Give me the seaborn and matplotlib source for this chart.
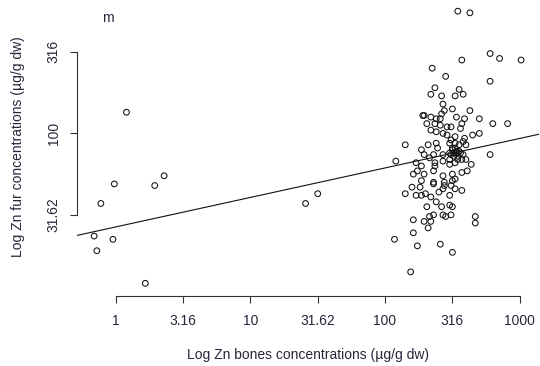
import numpy as np
import pandas as pd
import matplotlib
matplotlib.use("Agg")
import matplotlib.pyplot as plt
import seaborn as sns

# log10 Zn concentrations (ug/g dw)
bones_log = [
    -0.01, -0.11, 0.29, 0.36, -0.16, -0.02, -0.14, 0.22, 0.08, 1.41, 1.50,
    2.54, 2.63, 2.78, 2.85, 3.01, 2.57, 2.35, 2.45, 2.78, 2.37, 2.55,
    2.34, 2.42, 2.52, 2.58, 2.43, 2.50, 2.44, 2.63, 2.28, 2.29, 2.34, 2.38,
    2.41, 2.42, 2.53, 2.59, 2.57, 2.70, 2.80, 2.91, 2.31, 2.37, 2.41, 2.46,
    2.49, 2.56, 2.34, 2.38, 2.43, 2.46, 2.52, 2.59, 2.65, 2.70, 2.15, 2.27,
    2.32, 2.38, 2.39, 2.48, 2.50, 2.53, 2.58, 2.60, 2.29, 2.36, 2.43, 2.49,
    2.54, 2.58, 2.78, 2.08, 2.23, 2.27, 2.33, 2.37, 2.43, 2.48, 2.52, 2.57,
    2.60, 2.64, 2.21, 2.24, 2.29, 2.36, 2.37, 2.43, 2.48, 2.50, 2.57, 2.61,
    2.27, 2.36, 2.44, 2.50, 2.52,
    2.50, 2.52, 2.53, 2.51, 2.55, 2.52, 2.48, 2.56, 2.51, 2.54, 2.49, 2.55,
    2.15, 2.20, 2.23, 2.26, 2.27, 2.30, 2.34, 2.36, 2.38, 2.40, 2.43, 2.44,
    2.48, 2.49, 2.52, 2.57, 2.31, 2.42, 2.48, 2.50, 2.21, 2.29, 2.33, 2.34,
    2.36, 2.43, 2.45, 2.49, 2.32, 2.21, 2.67, 2.67, 2.07, 2.24, 2.41, 2.50,
    2.19,
]
fur_log = [
    1.69, 1.57, 1.68, 1.74, 1.37, 1.35, 1.28, 1.08, 2.13, 1.57, 1.63,
    2.75, 2.74, 2.49, 2.46, 2.45, 2.45, 2.40, 2.35, 2.32, 2.28, 2.27,
    2.24, 2.23, 2.23, 2.24, 2.18, 2.15, 2.14, 2.14, 2.11, 2.11, 2.10, 2.09,
    2.09, 2.12, 2.10, 2.09, 2.06, 2.09, 2.06, 2.06, 2.06, 2.06, 2.05, 2.04,
    2.04, 2.03, 2.02, 2.01, 2.00, 1.99, 1.98, 1.97, 1.99, 2.00, 1.93, 1.90,
    1.93, 1.94, 1.91, 1.94, 1.91, 1.89, 1.95, 1.93, 1.87, 1.87, 1.87, 1.87,
    1.86, 1.87, 1.87, 1.83, 1.82, 1.80, 1.85, 1.82, 1.83, 1.84, 1.82, 1.84,
    1.84, 1.81, 1.75, 1.77, 1.75, 1.77, 1.80, 1.74, 1.81, 1.75, 1.76, 1.77,
    1.71, 1.70, 1.70, 1.71, 1.72,
    1.90, 1.91, 1.88, 1.88, 1.89, 1.94, 1.88, 1.88, 1.86, 1.84, 1.96, 1.93,
    1.63, 1.67, 1.62, 1.67, 1.62, 1.63, 1.61, 1.69, 1.58, 1.64, 1.66, 1.68,
    1.62, 1.68, 1.66, 1.65, 1.55, 1.55, 1.56, 1.55, 1.47, 1.46, 1.49, 1.46,
    1.50, 1.50, 1.49, 1.50, 1.42, 1.39, 1.49, 1.45, 1.35, 1.31, 1.32, 1.27,
    1.15,
]

# fitted regression line (log-log)
fit_intercept = 1.426
fit_slope = 0.181

x_ticks = [0, 0.5, 1, 1.5, 2, 2.5, 3]
x_ticklabels = ["1", "3.16", "10", "31.62", "100", "316", "1000"]
y_ticks = [1.5, 2, 2.5]
y_ticklabels = ["31.62", "100", "316"]

df = pd.DataFrame({"bones": bones_log, "fur": fur_log})

sns.set_style("white")
plt.rcParams["font.family"] = ["Liberation Sans", "DejaVu Sans"]

W, H = 540, 366
fig = plt.figure(figsize=(W / 100, H / 100), dpi=100)
ax = fig.add_axes([77.3 / W, 70.3 / H, 461.7 / W, 295.6 / H])

sns.scatterplot(data=df, x="bones", y="fur", ax=ax, marker="o", s=17,
                facecolors="none", edgecolors="#111111", linewidths=0.75,
                legend=False)

xlim = (-0.285, 3.143)
ylim = (1.004, 2.818)
xs = np.array(xlim)
ax.plot(xs, fit_intercept + fit_slope * xs, color="#111111", lw=0.8)

ax.set_xlim(*xlim)
ax.set_ylim(*ylim)

text_col = "#26263a"
fs = 10
ax.set_xticks(x_ticks)
ax.set_xticklabels(x_ticklabels, fontsize=fs, color=text_col)
ax.set_yticks(y_ticks)
ax.set_yticklabels(y_ticklabels, fontsize=fs, color=text_col, rotation=90,
                   va="center")
ax.tick_params(axis="x", direction="out", length=5, width=0.8,
               color="#333333", pad=8, bottom=True)
ax.tick_params(axis="y", direction="out", length=5, width=0.8,
               color="#333333", pad=7, left=True)

for s in ["top", "right"]:
    ax.spines[s].set_visible(False)
ax.spines["left"].set_bounds(1.5, 2.5)
ax.spines["bottom"].set_bounds(0, 3)
for s in ["left", "bottom"]:
    ax.spines[s].set_color("#333333")
    ax.spines[s].set_linewidth(0.8)

ax.set_xlabel("")
ax.set_ylabel("")
fig.text(308 / W, 1 - 355 / H, "Log Zn bones concentrations (µg/g dw)",
         ha="center", va="center", fontsize=fs, color=text_col)
fig.text(18 / W, 1 - 147 / H, "Log Zn fur concentrations (µg/g dw)",
         ha="center", va="center", rotation=90, fontsize=fs, color=text_col)
fig.text(108 / W, 1 - 18 / H, "m", ha="center", va="center", fontsize=fs,
         color=text_col)

fig.savefig("out.png", dpi=100)
